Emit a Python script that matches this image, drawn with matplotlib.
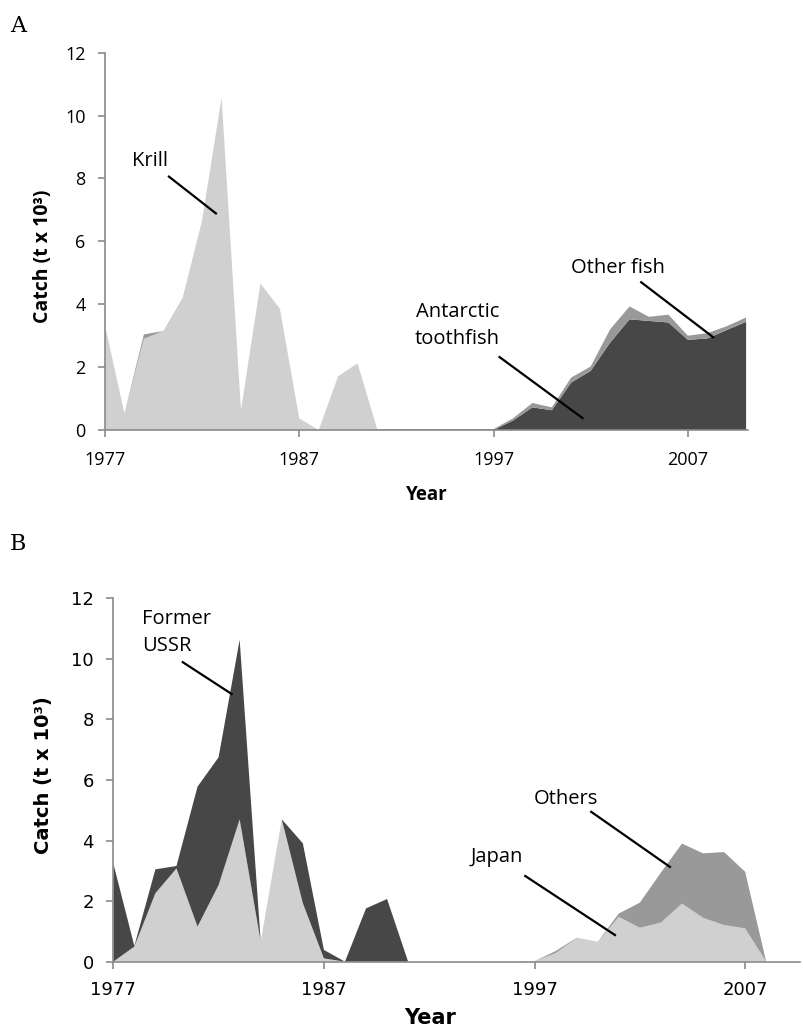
import matplotlib
matplotlib.use("Agg")
import matplotlib.pyplot as plt

# panel A: catch by species, 1977-2010 (t x 10^3)
years_a = list(range(1977, 2011))
krill = [3.33, 0.53, 2.90, 3.15, 4.21, 6.67, 10.58, 0.63, 4.66, 3.86, 0.37, 0.0,
         1.71, 2.12, 0.0, 0.0, 0.0, 0.0, 0.0, 0.0, 0.0, 0.0, 0.0, 0.0, 0.0, 0.0,
         0.0, 0.0, 0.0, 0.0, 0.0, 0.0, 0.0, 0.0]
toothfish = [0.0, 0.0, 0.0, 0.0, 0.0, 0.0, 0.0, 0.0, 0.0, 0.0, 0.0, 0.0, 0.0,
             0.0, 0.0, 0.0, 0.0, 0.0, 0.0, 0.0, 0.0, 0.30, 0.72, 0.63, 1.51,
             1.88, 2.78, 3.52, 3.47, 3.42, 2.87, 2.91, 3.18, 3.44]
other_fish = [0.0, 0.0, 0.14, 0.0, 0.0, 0.0, 0.0, 0.0, 0.0, 0.0, 0.0, 0.0, 0.0,
              0.0, 0.03, 0.03, 0.03, 0.03, 0.03, 0.03, 0.03, 0.07, 0.14, 0.09,
              0.16, 0.14, 0.42, 0.41, 0.13, 0.25, 0.13, 0.17, 0.12, 0.14]

# panel B: catch by nation, 1977-2008 (t x 10^3)
years_b = list(range(1977, 2009))
japan = [0.0, 0.50, 2.26, 3.08, 1.16, 2.53, 4.70, 0.66, 4.70, 1.93, 0.11, 0.0,
         0.0, 0.0, 0.0, 0.0, 0.0, 0.0, 0.0, 0.0, 0.02, 0.28, 0.78, 0.66, 1.48,
         1.12, 1.29, 1.92, 1.45, 1.21, 1.10, 0.0]
ussr = [3.25, 0.02, 0.79, 0.08, 4.62, 4.22, 5.93, 0.0, 0.0, 1.98, 0.28, 0.0,
        1.76, 2.07, 0.0, 0.0, 0.0, 0.0, 0.0, 0.0, 0.0, 0.0, 0.0, 0.0, 0.0,
        0.0, 0.0, 0.0, 0.0, 0.0, 0.0, 0.0]
others = [0.0, 0.0, 0.0, 0.0, 0.0, 0.0, 0.0, 0.0, 0.0, 0.0, 0.0, 0.0, 0.0,
          0.0, 0.0, 0.0, 0.0, 0.0, 0.0, 0.0, 0.0, 0.07, 0.01, 0.0, 0.11, 0.83,
          1.65, 1.98, 2.13, 2.41, 1.87, 0.0]

xticks = [1977, 1987, 1997, 2007]
yticks = [0, 2, 4, 6, 8, 10, 12]

light = "#d0d0d0"
dark = "#474747"
medium = "#999999"
axis_grey = "#8a8a8a"


def style_axes(ax, font, size, xpad):
    for side in ["top", "right"]:
        ax.spines[side].set_visible(False)
    for side in ["left", "bottom"]:
        ax.spines[side].set_color(axis_grey)
        ax.spines[side].set_linewidth(1.2)
    ax.set_ylim(0, 12)
    ax.set_yticks(yticks)
    ax.set_xticks(xticks)
    ax.tick_params(colors=axis_grey, length=5, width=1.2, labelcolor="black")
    ax.tick_params(axis="y", pad=9)
    ax.tick_params(axis="x", pad=xpad)
    for lab in ax.get_xticklabels() + ax.get_yticklabels():
        lab.set_fontfamily(font)
        lab.set_fontsize(size)


fig = plt.figure(figsize=(8.04, 10.28), dpi=100)

# ---- panel A
ax1 = fig.add_axes([0.1306, 0.5817, 0.7998, 0.367])
ax1.stackplot(years_a, krill, toothfish, other_fish,
              colors=[light, dark, medium], linewidth=0)
ax1.set_xlim(1977, 2010.1)
style_axes(ax1, "Open Sans", 13, 10)
ax1.set_xlabel("Year", fontfamily="Open Sans", fontsize=13.5, fontweight="bold")
ax1.xaxis.set_label_coords(0.50, -0.146)
ax1.set_ylabel("Catch (t x 10³)", fontfamily="Open Sans", fontsize=14,
               fontweight="bold")
ax1.yaxis.set_label_coords(-0.081, 0.461)

ann = dict(fontfamily="Open Sans", fontsize=14.5, ha="center", va="center")
ax1.text(1979.31, 8.57, "Krill", **ann)
ax1.plot([1980.29, 1982.71], [8.06, 6.89], color="black", lw=1.6)
ax1.text(1995.15, 3.33, "Antarctic\ntoothfish", linespacing=1.45, **ann)
ax1.plot([1997.31, 2001.58], [2.32, 0.38], color="black", lw=1.6)
ax1.text(2003.38, 5.14, "Other fish", **ann)
ax1.plot([2004.6, 2008.31], [4.70, 2.95], color="black", lw=1.6)

# ---- panel B
ax2 = fig.add_axes([0.1409, 0.0645, 0.854, 0.3535])
ax2.stackplot(years_b, japan, ussr, others,
              colors=[light, dark, medium], linewidth=0)
ax2.set_xlim(1977, 2009.6)
style_axes(ax2, "DejaVu Sans", 13, 9)
ax2.set_xlabel("Year", fontfamily="DejaVu Sans", fontsize=15, fontweight="bold")
ax2.xaxis.set_label_coords(0.461, -0.127)
ax2.set_ylabel("Catch (t x 10³)", fontfamily="DejaVu Sans", fontsize=14,
               fontweight="bold")
ax2.yaxis.set_label_coords(-0.088, 0.514)

ann2 = dict(fontfamily="Open Sans", fontsize=14.5, va="center")
ax2.text(1978.36, 10.88, "Former\nUSSR", ha="left", linespacing=1.45, **ann2)
ax2.plot([1980.30, 1982.62], [9.89, 8.84], color="black", lw=1.6)
ax2.text(1998.50, 5.37, "Others", ha="center", **ann2)
ax2.plot([1999.69, 2003.43], [4.95, 3.13], color="black", lw=1.6)
ax2.text(1995.23, 3.46, "Japan", ha="center", **ann2)
ax2.plot([1996.56, 2000.82], [2.83, 0.88], color="black", lw=1.6)

fig.text(0.012, 0.975, "A", fontfamily="DejaVu Serif", fontsize=16, va="center")
fig.text(0.012, 0.471, "B", fontfamily="DejaVu Serif", fontsize=16, va="center")

fig.savefig("out.png", dpi=100)
